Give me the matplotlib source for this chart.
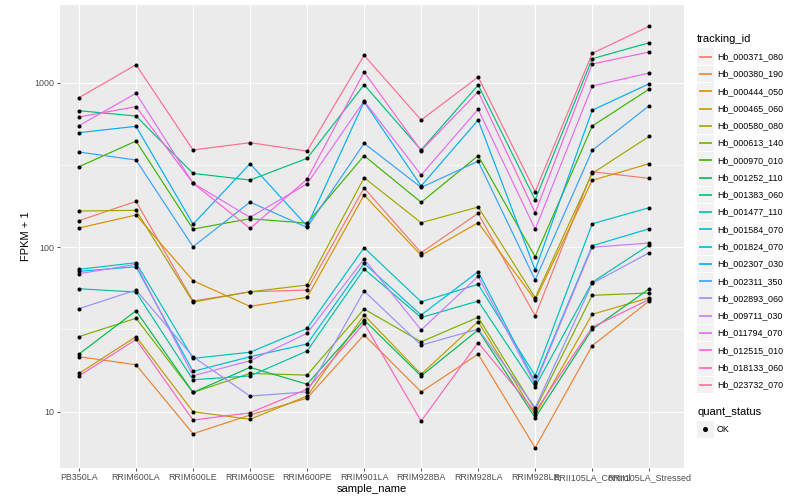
import matplotlib
matplotlib.use('Agg')
import matplotlib.pyplot as plt
from matplotlib.lines import Line2D
from matplotlib.patches import Rectangle
from matplotlib.ticker import FixedLocator, NullFormatter
import numpy as np

plt.rcParams['font.family'] = ['Liberation Sans', 'DejaVu Sans']

samples = ['PB350LA', 'RRIM600LA', 'RRIM600LE', 'RRIM600SE', 'RRIM600PE', 'RRIM901LA',
           'RRIM928BA', 'RRIM928LA', 'RRIM928LE', 'RRII105LA_Control', 'RRII105LA_Stressed']

# FPKM + 1 per tracking_id, in sample order
hb_000371_080 = [145, 190, 47.1, 53.6, 54.9, 229, 92.6, 160.7, 38.3, 287.7, 262]
hb_000380_190 = [21.6, 19.3, 7.35, 9.55, 12.1, 29.3, 13.2, 22.4, 6.04, 25.2, 47.1]
hb_000444_050 = [130.8, 157, 62.6, 43.7, 49.6, 207.7, 89.3, 140.9, 47.8, 255, 322]
hb_000465_060 = [17.1, 28.6, 10.0, 9.0, 12.45, 38.7, 16.9, 35.3, 9.55, 39.1, 49.3]
hb_000580_080 = [166, 167.6, 46.4, 53.6, 58.9, 264.5, 140.9, 175.5, 49.3, 281, 472]
hb_000613_140 = [28.6, 37.0, 13.1, 17.1, 16.7, 42.1, 26.6, 37.5, 10.3, 51.0, 52.7]
hb_000970_010 = [308.5, 442, 129, 149, 140, 360, 187.5, 360, 87.5, 545, 915]
hb_001252_110 = [22.4, 41.1, 13.1, 18.6, 14.7, 36.1, 16.5, 31.4, 9.2, 31.7, 55.9]
hb_001383_060 = [676, 627, 281, 256, 347, 972, 390, 968, 194, 1399, 1750]
hb_001477_110 = [55.9, 53.4, 15.65, 16.5, 23.4, 73.7, 37.4, 47.1, 14.2, 61.2, 103.1]
hb_001584_070 = [73.4, 80.5, 21.1, 23.0, 32.1, 99.3, 46.6, 59.5, 16.55, 138.9, 173.9]
hb_001824_070 = [71.4, 76.1, 17.6, 21.6, 25.8, 79.8, 38.7, 71.0, 15.1, 102.1, 129.5]
hb_002307_030 = [497, 543, 138, 322, 134.5, 766, 235.5, 593, 72.7, 680, 986]
hb_002311_350 = [379, 339, 100.7, 188, 132, 428, 231, 333, 63.2, 388, 725]
hb_002893_060 = [42.3, 54.9, 21.6, 12.45, 13.2, 54.2, 25.4, 31.8, 10.6, 60.3, 92.6]
hb_009711_030 = [69.0, 78.7, 16.55, 20.4, 30.0, 84.8, 31.4, 66.5, 14.7, 99.9, 106.1]
hb_011794_070 = [548, 862, 245, 152, 243, 774, 275, 689, 128.5, 955, 1145]
hb_012515_010 = [619, 715, 245, 130, 259, 1161, 386, 882, 162, 1299, 1537]
hb_018133_060 = [16.5, 27.5, 8.9, 9.86, 13.7, 34.5, 8.78, 26.3, 10.0, 32.6, 48.2]
hb_023732_070 = [811, 1286, 390, 432, 384, 1467, 593, 1083, 217.5, 1509, 2202]

gene_ids = ['Hb_000371_080', 'Hb_000380_190', 'Hb_000444_050', 'Hb_000465_060',
            'Hb_000580_080', 'Hb_000613_140', 'Hb_000970_010', 'Hb_001252_110',
            'Hb_001383_060', 'Hb_001477_110', 'Hb_001584_070', 'Hb_001824_070',
            'Hb_002307_030', 'Hb_002311_350', 'Hb_002893_060', 'Hb_009711_030',
            'Hb_011794_070', 'Hb_012515_010', 'Hb_018133_060', 'Hb_023732_070']
series = [hb_000371_080, hb_000380_190, hb_000444_050, hb_000465_060, hb_000580_080,
          hb_000613_140, hb_000970_010, hb_001252_110, hb_001383_060, hb_001477_110,
          hb_001584_070, hb_001824_070, hb_002307_030, hb_002311_350, hb_002893_060,
          hb_009711_030, hb_011794_070, hb_012515_010, hb_018133_060, hb_023732_070]

# ggplot hue palette for 20 levels
colors = ['#F8766D', '#EA8331', '#D89000', '#C09B00', '#A3A500', '#7CAE00', '#39B600',
          '#00BB4E', '#00BF7D', '#00C1A3', '#00BFC4', '#00BAE0', '#00B0F6', '#35A2FF',
          '#9590FF', '#C77CFF', '#E76BF3', '#FA62DB', '#FF62BC', '#FF6C91']

W, H = 800, 500
fig = plt.figure(figsize=(8, 5), dpi=100)
ax = fig.add_axes([60 / W, 32 / H, 624 / W, 463 / H])
ax.set_facecolor('#EBEBEB')

x = np.arange(len(samples))
for vals, c in zip(series, colors):
    ax.plot(x, vals, color=c, lw=0.85, zorder=2)
for vals in series:
    ax.scatter(x, vals, s=8.5, color='black', zorder=3, linewidths=0)

ax.set_yscale('log')
ax.set_ylim(4.55, 2967)
ax.set_xlim(-0.333, 10.61)
ax.set_xticks(x)
ax.set_xticklabels(samples)
ax.set_yticks([10, 100, 1000])
ax.set_yticklabels(['10', '100', '1000'])
ax.yaxis.set_minor_locator(FixedLocator([10 ** 1.5, 10 ** 2.5]))
ax.yaxis.set_minor_formatter(NullFormatter())
ax.grid(which='major', color='white', lw=0.8)
ax.grid(which='minor', axis='y', color='white', lw=0.4)
ax.set_axisbelow(True)
for s in ax.spines.values():
    s.set_visible(False)
ax.tick_params(which='major', length=2.2, width=0.6, color='#333333',
               labelsize=6.4, labelcolor='#4D4D4D', pad=1.6)
ax.tick_params(which='minor', length=0)

ax.set_xlabel('sample_name', fontsize=8, labelpad=1.5)
ax.set_ylabel('FPKM + 1', fontsize=8, labelpad=3)

# legend, drawn by hand in ggplot style
def fy(y):
    return 1 - y / H

fig.text(697 / W, fy(39), 'tracking_id', fontsize=8, va='center', ha='left')
for i, (name, c) in enumerate(zip(gene_ids, colors)):
    yc = 56.7 + i * 17.27
    fig.patches.append(Rectangle((697 / W, fy(yc + 8.3)), 16.5 / W, 16.6 / H,
                                 transform=fig.transFigure, facecolor='#F2F2F2',
                                 edgecolor='none'))
    fig.lines.append(Line2D([698.5 / W, 712 / W], [fy(yc), fy(yc)], color=c, lw=1.2,
                            solid_capstyle='butt', transform=fig.transFigure))
    fig.text(717 / W, fy(yc), name, fontsize=6.4, va='center', ha='left')

fig.text(697 / W, fy(412), 'quant_status', fontsize=8, va='center', ha='left')
fig.patches.append(Rectangle((697 / W, fy(437.5)), 16.5 / W, 16.6 / H,
                             transform=fig.transFigure, facecolor='#F2F2F2',
                             edgecolor='none'))
fig.lines.append(Line2D([705.2 / W], [fy(429)], marker='o', markersize=2.6, color='black',
                        lw=0, transform=fig.transFigure))
fig.text(717 / W, fy(429), 'OK', fontsize=6.4, va='center', ha='left')

fig.savefig('out.png', dpi=100)
